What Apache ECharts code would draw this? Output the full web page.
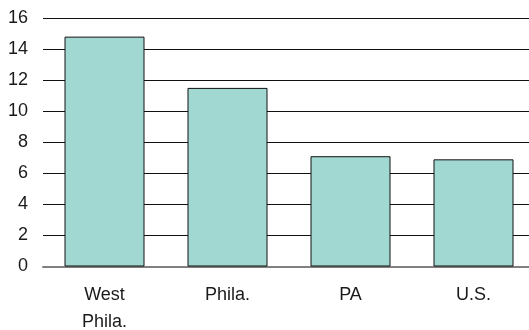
<!DOCTYPE html>
<html>
<head>
<meta charset="utf-8">
<script src="https://cdn.jsdelivr.net/npm/echarts@6/dist/echarts.min.js"></script>
<style>
  html, body { margin: 0; padding: 0; background: #fff; }
  #chart { width: 529px; height: 330px; }
</style>
</head>
<body>
<div id="chart"></div>
<script>
// Categories and values
const categories = ['West\nPhila.', 'Phila.', 'PA', 'U.S.'];
const values = [14.8, 11.5, 7.1, 6.9];
const yTicks = { min: 0, max: 16, interval: 2 };

const chart = echarts.init(document.getElementById('chart'), null, { renderer: 'canvas' });

chart.setOption({
  animation: false,
  grid: {
    left: 43, top: 18, width: 492, bottom: 63.5,
    containLabel: false,
    outerBoundsMode: 'none'
  },
  xAxis: {
    type: 'category',
    data: categories,
    axisLine: { show: true, lineStyle: { color: '#808080', width: 2 } },
    axisTick: { show: false },
    axisLabel: {
      color: '#1a1a1a',
      fontFamily: 'Liberation Sans, Arial, sans-serif',
      fontSize: 18,
      lineHeight: 27,
      margin: 15
    }
  },
  yAxis: {
    type: 'value',
    min: yTicks.min,
    max: yTicks.max,
    interval: yTicks.interval,
    axisLine: { show: false },
    axisTick: { show: false },
    splitLine: { show: true, lineStyle: { color: '#111', width: 1 } },
    axisLabel: {
      color: '#1a1a1a',
      fontFamily: 'Liberation Sans, Arial, sans-serif',
      fontSize: 18,
      margin: 15
    }
  },
  series: [{
    type: 'bar',
    data: values,
    barWidth: 80,
    itemStyle: { color: '#a2d8d2', borderColor: '#111', borderWidth: 1 }
  }]
});
</script>
</body>
</html>
